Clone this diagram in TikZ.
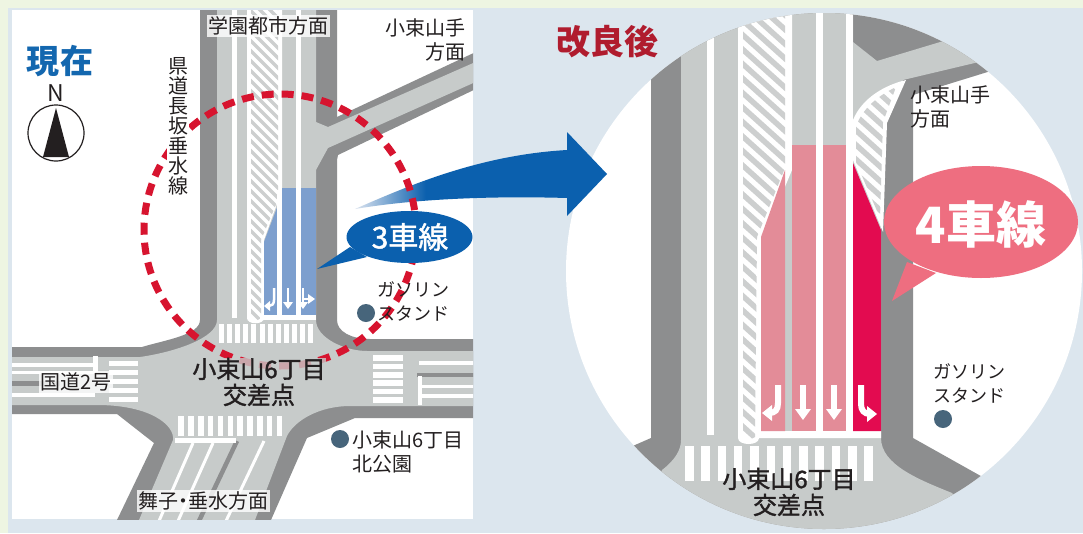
\documentclass[tikz,border=0pt]{standalone}
\usepackage{fontspec}
\setmainfont{Noto Sans CJK JP}
\newfontfamily\medfont{Noto Sans CJK JP}[FakeBold=1.5]
\definecolor{edgegreen}{HTML}{EEF5E2}
\definecolor{panelblue}{HTML}{DCE6EE}
\definecolor{asphalt}{HTML}{8D8E8F}
\definecolor{roadgray}{HTML}{C7CBCA}
\definecolor{hatchgray}{HTML}{CDCFCF}
\definecolor{lanepink}{HTML}{E38C98}
\definecolor{lanered}{HTML}{E30B50}
\definecolor{laneblue}{HTML}{7D9FCE}
\definecolor{arrowblue}{HTML}{0B60AE}
\definecolor{fadeblue}{HTML}{DCE4F0}
\definecolor{callpink}{HTML}{EE6E80}
\definecolor{dashred}{HTML}{D7142F}
\definecolor{titleblue}{HTML}{1367AF}
\definecolor{titlered}{HTML}{B01C2E}
\definecolor{dotblue}{HTML}{47657B}
\definecolor{inktext}{HTML}{231F20}
\pgfdeclarehorizontalshading{bigarrowshade}{100bp}{color(0bp)=(fadeblue); color(25bp)=(fadeblue); color(39bp)=(arrowblue); color(100bp)=(arrowblue)}
\tikzset{
  label20/.style={font=\fontsize{20}{24}\selectfont,text=inktext,inner sep=0pt,align=left},
  label18/.style={font=\fontsize{18}{24}\selectfont,text=inktext,inner sep=0pt,align=left},
  halo/.style={fill=white,fill opacity=.8,text opacity=1,inner sep=1.5pt},
  cross/.style={font=\fontsize{24}{26}\medfont,text=inktext,inner sep=0pt,align=center},
  poi/.style={circle,fill=dotblue,minimum size=18pt,inner sep=0pt},
  bar/.style={fill=white},
  smallhatch/.style={hatchgray,line width=3.2pt},
  bighatch/.style={hatchgray,line width=5.5pt},
  laneline/.style={white,line width=3pt}
}
\begin{document}
\begin{tikzpicture}[x=1pt,y=-1pt]
\useasboundingbox (0,0) rectangle (1083,533);
\fill[edgegreen] (0,0) rectangle (1083,533);
\fill[panelblue] (8,8) rectangle (1083,533);
\fill[white] (12,10) rectangle (473,519);
% ---------- left map ----------
\begin{scope}
\clip (12,10) rectangle (473,519);
\fill[asphalt] (200,0) -- (337,0) -- (337,117) -- (480,50) -- (480,87) -- (338,155) -- (337,160) -- (337,320)
  .. controls (337,332) and (352,339) .. (370,339) -- (480,339) -- (480,418) -- (355,418) -- (307,438) -- (271,520) -- (117,520)
  -- (154,443) -- (117,414) -- (0,414) -- (0,347) -- (142,347) .. controls (165,340) and (200,335) .. (200,320) -- cycle;
\fill[roadgray] (217,0) -- (316,0) -- (316,122) -- (328,127) -- (480,60) -- (480,80) -- (328,148) -- (316,170) -- (316,320)
  .. controls (316,338) and (345,351) .. (367,351) -- (480,351) -- (480,406) -- (350,406)
  .. controls (320,406) and (295,420) .. (287,436) -- (255,520) -- (139,520) -- (173,440)
  .. controls (175,425) and (150,405) .. (97,405) -- (0,405) -- (0,357) -- (140,357)
  .. controls (175,352) and (217,338) .. (217,320) -- cycle;
% north road markings
\fill[white] (232,0) rectangle (237,318);
\fill[white] (296,0) rectangle (301,315);
\fill[white] (247,0) -- (282,0) -- (282,190) -- (264,240) -- (264,318) .. controls (264,325) and (247,325) .. (247,318) -- cycle;
\begin{scope}
\clip (251,0) -- (278,0) -- (278,200) -- (261,240) -- (261,318) -- (256,321) -- (251,318) -- cycle;
\foreach \k in {-30,...,36} \draw[smallhatch] (240,{\k*10}) -- (290,{\k*10+50});
\end{scope}
\fill[laneblue] (278,205) -- (264,242) -- (264,315) -- (277,315) -- (277,205) -- cycle;
\fill[laneblue] (282,188) rectangle (296,315);
\fill[laneblue] (301,188) rectangle (316,315);
\fill[white] (260,315) rectangle (316,320);
\fill[white] (277,190) rectangle (282,320);
% lane arrows left
\draw[white,line width=2.5pt] (274,288) -- (274,300) .. controls (274,304) and (272,306) .. (269,306);
\fill[white] (264,306) -- (270,301) -- (270,311) -- cycle;
\draw[white,line width=2.5pt] (288,288) -- (288,303);
\fill[white] (288,309) -- (283,302) -- (293,302) -- cycle;
\draw[white,line width=2.5pt] (303,288) -- (303,303);
\fill[white] (303,309) -- (298,302) -- (308,302) -- cycle;
\draw[white,line width=2.5pt] (303,299) -- (309,299);
\fill[white] (315,299) -- (308,294) -- (308,304) -- cycle;
% north crosswalk
\foreach \k in {0,...,11} \fill[bar] ({219+8.1*\k},324) rectangle ++(5,19);
% west road
\fill[white] (12,363) rectangle (95,367);
\fill[white] (12,371) rectangle (95,374);
\fill[white] (93,356) rectangle (98,372);
\fill[asphalt] (12,381) rectangle (60,386);
\fill[white] (12,393) rectangle (95,397);
\foreach \y in {361,370,379,388,397} \fill[bar] (109,\y) rectangle (138,{\y+5});
% east road
\foreach \y in {355,363.5,372,380,388.5,397} \fill[bar] (373,\y) rectangle (403,{\y+5.5});
\fill[white] (419,361) rectangle (480,365);
\fill[asphalt] (417,373) rectangle (480,376.5);
\fill[white] (418,376) rectangle (422,405);
\fill[white] (422,385) rectangle (480,388);
\fill[white] (422,393.5) rectangle (480,398);
% SW road
\foreach \k in {0,...,10} \fill[bar] ({178.3+9.85*\k},416) rectangle ++(5.5,20);
\draw[asphalt,line width=4.5pt] (237,441) -- (199,521);
\fill[white] (175,438) rectangle (236,443);
\draw[laneline] (193,443) -- (159,521);
\draw[laneline] (213,443) -- (178,521);
\draw[laneline] (264,441) -- (226,521);
\end{scope}
% ---------- right circle ----------
\fill[white] (824,271) circle (258pt);
\begin{scope}
\clip (824,271) circle (258pt);
\fill[asphalt] (651,0) -- (1020,0) -- (1020,62) -- (913,95) -- (913,438) -- (1020,498) -- (1020,540) -- (600,540) -- (600,462) -- (635,445) -- (651,438) -- cycle;
\fill[roadgray] (681,0) -- (853,0) -- (853,42) -- (877,61) -- (1000,24) -- (1000,57) -- (903,80) -- (885,123) -- (881,227) -- (881,438)
  .. controls (881,465) and (920,480) .. (952,493) -- (990,540) -- (640,540) -- (662,470) .. controls (675,460) and (681,450) .. (681,440) -- cycle;
\fill[white] (707,0) rectangle (714,435);
\fill[white] (738,0) -- (792,0) -- (792,170) -- (764,237) -- (764,431) -- (881,431) -- (881,438) -- (759,438) .. controls (759,446) and (738,446) .. (738,438) -- cycle;
\begin{scope}
\clip (743,0) -- (785,0) -- (785,168) -- (757,237) -- (755,437) -- (749,440) -- (743,436) -- cycle;
\foreach \k in {-20,...,40} \draw[bighatch] (720,{\k*14.5}) -- (800,{\k*14.5+72});
\end{scope}
\fill[white] (816,0) rectangle (823,431);
\fill[white] (846,0) rectangle (853,431);
\fill[lanepink] (785,170) -- (761,237) -- (761,431) -- (785,431) -- cycle;
\fill[lanepink] (792,145) rectangle (816,431);
\fill[lanepink] (823,145) rectangle (846,431);
\fill[white] (853,120) .. controls (862,98) and (885,85) .. (906,80) -- (887,123) -- (883,232) -- (853,160) -- cycle;
\begin{scope}
\clip (856,126) .. controls (864,106) and (880,95) .. (896,87) -- (883,122) -- (880,218) -- (856,162) -- cycle;
\foreach \k in {-5,...,25} \draw[bighatch] (840,{\k*14.5}) -- (900,{\k*14.5+54});
\end{scope}
\fill[lanered] (853,163) -- (881,230) -- (881,431) -- (853,431) -- cycle;
% lane arrows right
\draw[white,line width=6pt] (778,385) -- (778,403) .. controls (778,410) and (775,413) .. (769,413);
\fill[white] (762,413) -- (772,405) -- (772,421) -- cycle;
\draw[white,line width=6pt] (803,385) -- (803,411);
\fill[white] (803,420) -- (795,409) -- (811,409) -- cycle;
\draw[white,line width=6pt] (834,385) -- (834,411);
\fill[white] (834,420) -- (826,409) -- (842,409) -- cycle;
\draw[white,line width=6pt] (861,385) -- (861,404) .. controls (861,410) and (864,414) .. (870,414);
\fill[white] (877,414) -- (867,406) -- (867,422) -- cycle;
% crosswalk
\foreach \k in {0,...,11} \fill[bar] ({685+16.3*\k},446) rectangle ++(8.5,35);
\end{scope}
% ---------- big arrow, red circle, callouts ----------
\shade[shading=bigarrowshade] (355,209) .. controls (410,185) and (480,155) .. (567,150) -- (567,132) -- (607,174) -- (567,216) -- (567,198)
  .. controls (500,196) and (420,198) .. (355,209) -- cycle;
\draw[dashred,line width=7pt,dash pattern=on 12pt off 8pt] (280,230) circle (136pt);
\fill[arrowblue] (317,269) -- (350,247) -- (367,257) -- cycle;
\fill[arrowblue] (409.5,237) ellipse (63pt and 26pt);
\node[font=\fontsize{30}{32}\medfont,text=white,inner sep=0pt] (lanes3) at (410,237) {3車線};
\fill[callpink] (892,301) -- (907,262) -- (936,273) -- cycle;
\fill[callpink] (981,222) ellipse (97pt and 56pt);
\node[font=\fontsize{50}{52}\bfseries\selectfont,text=white,inner sep=0pt] (lanes4) at (981,224) {4車線};
% ---------- texts ----------
\node[font=\fontsize{33}{36}\bfseries\selectfont,text=titleblue,inner sep=0pt] (now) at (60,61) {現在};
\node[font=\fontsize{34}{36}\bfseries\selectfont,text=titlered,inner sep=0pt] (after) at (607,42) {改良後};
\node[font=\fontsize{23}{25}\selectfont,text=inktext,inner sep=0pt] (north) at (56,93) {N};
\node[circle,draw=inktext,fill=white,line width=1.2pt,minimum size=56pt,inner sep=0pt] (compass) at (56,133) {};
\fill[inktext] (56,108) -- (69,157) -- (43,157) -- cycle;
\node[label20,halo] (gakuen) at (268,26) {学園都市方面};
\node[label20,align=right,anchor=north east] (kozuka1) at (466,19) {小束山手\\方面};
\node[font=\fontsize{20}{20}\selectfont,text=inktext,align=center,fill=white,inner sep=1pt] (kendo) at (178,126) {県\\道\\長\\坂\\垂\\水\\線};
\node[poi] (gas1dot) at (366,313) {};
\node[label18,anchor=north west] (gas1) at (377,281) {ガソリン\\スタンド};
\node[cross,fill=roadgray,fill opacity=.8,text opacity=1] (inter1) at (259,382) {小束山6丁目\\交差点};
\node[label20,halo] (route2) at (76,382) {国道2号};
\node[label20,halo] (maiko) at (203,501) {舞子\hspace{-5pt}・\hspace{-5pt}垂水方面};
\node[poi] (parkdot) at (340,439) {};
\node[label20,anchor=north west] (park) at (352,431) {小束山6丁目\\北公園};
\node[label20,anchor=north west] (kozuka2) at (910,86) {小束山手\\方面};
\node[label18,anchor=north west] (gas2) at (933,363) {ガソリン\\スタンド};
\node[poi] (gas2dot) at (943,419) {};
\node[cross] (inter2) at (789,492) {小束山6丁目\\交差点};
\end{tikzpicture}
\end{document}
